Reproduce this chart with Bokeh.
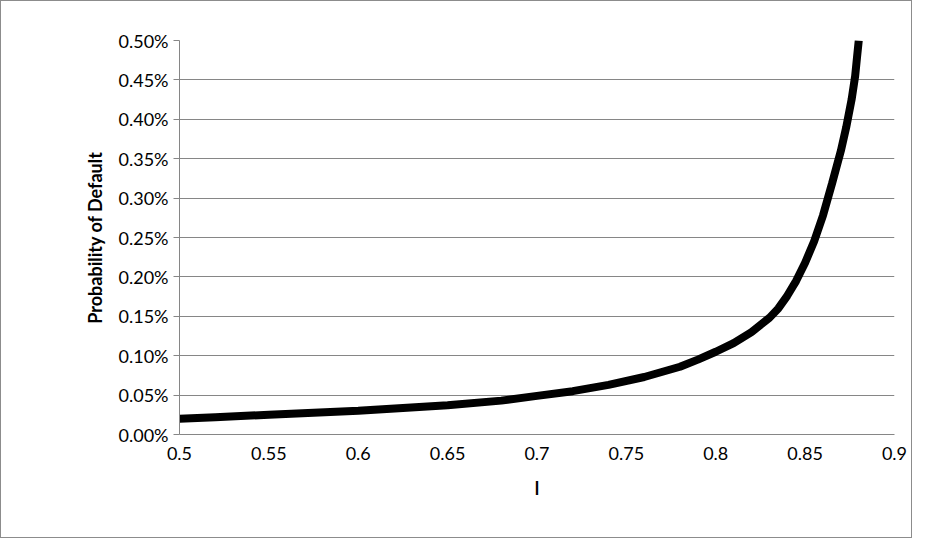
from bokeh.plotting import figure
from bokeh.models import NumeralTickFormatter, FixedTicker
from bokeh.embed import file_html
from bokeh.resources import INLINE

# curve
l_vals = [0.5, 0.52, 0.55, 0.6, 0.65, 0.68, 0.7, 0.72, 0.74, 0.76, 0.78, 0.79, 0.8, 0.81, 0.82, 0.83, 0.835, 0.84, 0.845,
          0.85, 0.855, 0.86, 0.865, 0.87, 0.873, 0.876, 0.878, 0.879, 0.88]
pd_vals = [0.00020, 0.00022, 0.00025, 0.00030, 0.00037, 0.00043, 0.00049, 0.00055, 0.00063, 0.00073, 0.00086, 0.00095,
           0.00105, 0.00116, 0.00130, 0.00148, 0.00160, 0.00176, 0.00195, 0.00218, 0.00245, 0.00278, 0.00318, 0.00360,
           0.00390, 0.00425, 0.00455, 0.00478, 0.00500]
y_ticks = [i * 0.0005 for i in range(11)]
x_ticks = [0.5, 0.55, 0.6, 0.65, 0.7, 0.75, 0.8, 0.85, 0.9]

p = figure(width=912, height=538, output_backend="svg", toolbar_location=None,
           x_range=(0.5, 0.9), y_range=(0, 0.005),
           x_axis_label="l", y_axis_label="Probability of Default",
           min_border_left=178, min_border_right=19, min_border_top=39, min_border_bottom=105)
p.styles = {"border": "1px solid #8c8c8c", "box-sizing": "border-box"}

p.line(l_vals, pd_vals, line_color="black", line_width=8)

p.xaxis.ticker = FixedTicker(ticks=x_ticks)
p.yaxis.ticker = FixedTicker(ticks=y_ticks)
p.yaxis.formatter = NumeralTickFormatter(format="0.00%")
p.xaxis.formatter = NumeralTickFormatter(format="0.0[0]")
for ax in (p.xaxis[0], p.yaxis[0]):
    ax.major_label_text_font = "Lato"
    ax.major_label_text_font_size = "18px"
    ax.major_label_text_color = "black"
    ax.axis_label_text_font = "Lato"
    ax.axis_label_text_font_size = "18px"
    ax.axis_label_text_font_style = "bold"
    ax.axis_label_text_color = "black"
    ax.axis_line_color = "#868686"
    ax.major_tick_in = 0
    ax.major_tick_out = 6
    ax.major_tick_line_color = "#868686"
    ax.minor_tick_line_color = None
p.xaxis.major_tick_out = 0
p.xaxis.major_label_standoff = 12
p.xaxis.axis_label_standoff = 14
p.yaxis.axis_label_standoff = 10
p.xgrid.grid_line_color = None
p.ygrid.grid_line_color = "#868686"
p.outline_line_color = None

open("out.html", "w").write(file_html(p, INLINE))
